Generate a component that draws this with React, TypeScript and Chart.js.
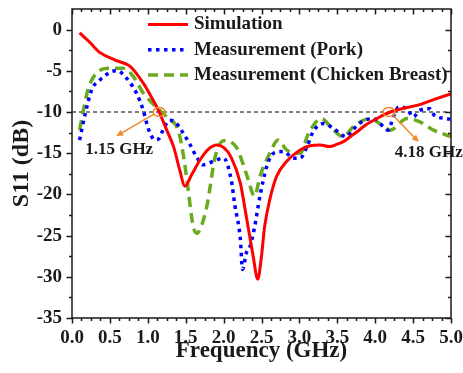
import React, { useEffect, useRef } from 'react';
import { Chart, registerables } from 'chart.js';

Chart.register(...registerables);

// ---------- data ----------
const simFreq = [0.1, 0.24, 0.37, 0.57, 0.77, 0.94, 1.03, 1.12, 1.16, 1.25, 1.34, 1.42, 1.49, 1.58, 1.69, 1.8, 1.91, 2.0, 2.1, 2.22, 2.3, 2.39, 2.45, 2.5, 2.54, 2.61, 2.7, 2.83, 3.01, 3.14, 3.27, 3.4, 3.5, 3.58, 3.67, 3.76, 3.87, 3.98, 4.1, 4.2, 4.35, 4.55, 4.77, 5.0];
const simS11 = [-0.4, -1.6, -2.8, -3.7, -4.5, -6.5, -7.9, -9.4, -10.2, -12.2, -14.2, -17.0, -19.0, -17.6, -15.8, -14.5, -14.0, -14.3, -15.5, -18.6, -22.7, -27.5, -30.3, -27.5, -24.0, -20.6, -17.8, -16.0, -14.6, -14.1, -14.0, -14.2, -13.9, -13.6, -13.0, -12.4, -11.6, -11.0, -10.4, -10.0, -9.6, -9.2, -8.5, -7.8];

const porkFreq = [0.1, 0.17, 0.26, 0.37, 0.52, 0.6, 0.68, 0.85, 0.94, 0.99, 1.04, 1.1, 1.15, 1.2, 1.29, 1.36, 1.47, 1.56, 1.64, 1.73, 1.86, 2.0, 2.1, 2.15, 2.22, 2.25, 2.3, 2.35, 2.41, 2.48, 2.57, 2.66, 2.79, 2.92, 3.01, 3.1, 3.18, 3.32, 3.45, 3.62, 3.71, 3.84, 3.98, 4.11, 4.17, 4.24, 4.31, 4.42, 4.5, 4.59, 4.72, 4.78, 4.94, 5.0];
const porkS11 = [-13.4, -10.4, -7.3, -6.1, -5.1, -5.0, -5.5, -7.7, -9.8, -11.5, -12.8, -13.4, -13.2, -12.2, -11.0, -11.2, -12.6, -14.0, -15.4, -16.4, -16.0, -15.6, -18.2, -21.4, -25.3, -29.1, -27.1, -26.3, -23.9, -20.2, -16.6, -15.0, -14.8, -15.6, -15.6, -14.2, -12.4, -11.4, -12.0, -13.0, -12.1, -11.1, -10.8, -11.8, -12.2, -10.6, -9.4, -9.6, -10.6, -9.8, -9.6, -10.4, -10.8, -10.9];

const chickenFreq = [0.1, 0.15, 0.21, 0.32, 0.5, 0.68, 0.81, 0.94, 1.1, 1.25, 1.4, 1.45, 1.51, 1.6, 1.65, 1.7, 1.78, 1.89, 2.0, 2.17, 2.3, 2.41, 2.48, 2.61, 2.72, 2.83, 3.01, 3.12, 3.29, 3.43, 3.58, 3.71, 3.93, 4.09, 4.2, 4.42, 4.59, 4.77, 4.94, 5.0];
const chickenS11 = [-12.2, -9.8, -7.3, -5.3, -4.7, -4.7, -5.7, -7.7, -9.3, -10.6, -12.2, -14.2, -17.8, -23.9, -24.7, -24.0, -21.4, -15.4, -13.5, -14.3, -17.5, -20.2, -17.8, -15.0, -13.4, -14.6, -15.0, -12.6, -10.8, -12.0, -13.0, -11.8, -10.8, -11.6, -12.2, -10.8, -11.2, -12.2, -12.8, -13.0];

const seriesNames = ['Simulation', 'Measurement (Pork)', 'Measurement (Chicken Breast)'];
const thresholdDb = -10;
const markerFreqs = [1.15, 4.18];
const markerLabels = ['1.15 GHz', '4.18 GHz'];
const xTitle = 'Frequency (GHz)';
const yTitle = 'S11 (dB)';

// ---------- styles ----------
const FONT = "'Liberation Serif', 'Times New Roman', serif";
const RED = '#ff0000';
const BLUE = '#0000ff';
const GREEN = '#6aaa1e';
const ORANGE = '#f0892c';
const AXIS = '#1a1a1a';

const X_MIN = 0, X_MAX = 5, Y_MIN = -35, Y_MAX = 2.5;

const framePlugin = {
  id: 'frame',
  afterDraw(chart: any) {
    const { ctx, chartArea } = chart;
    const { left, right, top, bottom } = chartArea;
    const xs = chart.scales.x, ys = chart.scales.y;
    ctx.save();
    ctx.strokeStyle = AXIS;
    ctx.lineWidth = 1.5;
    ctx.setLineDash([]);
    ctx.beginPath();
    ctx.rect(left, top, right - left, bottom - top);
    // x ticks: major every 0.5, minor every 0.125
    for (let i = 0; i <= 40; i++) {
      const v = X_MIN + i * 0.125;
      const major = i % 4 === 0;
      const len = major ? 5.5 : 3;
      const px = Math.round(xs.getPixelForValue(v)) + 0.5;
      ctx.moveTo(px, bottom); ctx.lineTo(px, bottom + len);
      ctx.moveTo(px, top); ctx.lineTo(px, top + len);
    }
    // y ticks: major every 5, minor every 2.5
    for (let i = 0; i <= 14; i++) {
      const v = Y_MIN + i * 2.5;
      const major = i % 2 === 0;
      const len = major ? 5.5 : 3;
      const py = Math.round(ys.getPixelForValue(v)) + 0.5;
      ctx.moveTo(left, py); ctx.lineTo(left - len, py);
      ctx.moveTo(right, py); ctx.lineTo(right - len, py);
    }
    ctx.stroke();
    ctx.restore();
  },
};

// pixel offsets for the annotation arrows and labels (relative to the marker)
const annotationLayout = [
  { tipDx: -43, tipDy: 24, textDx: -74, textDy: 42 },
  { tipDx: 30, tipDy: 30, textDx: 6, textDy: 45 },
];

const annotationPlugin = {
  id: 'annotations',
  afterDatasetsDraw(chart: any) {
    const { ctx } = chart;
    const xs = chart.scales.x, ys = chart.scales.y;
    ctx.save();
    markerFreqs.forEach((f, i) => {
      const cx = xs.getPixelForValue(f);
      const cy = ys.getPixelForValue(thresholdDb);
      const lay = annotationLayout[i];
      const rx = 6, ry = 4.5;
      ctx.strokeStyle = ORANGE;
      ctx.fillStyle = ORANGE;
      ctx.lineWidth = 1.5;
      ctx.setLineDash([]);
      ctx.beginPath();
      ctx.ellipse(cx, cy, rx, ry, 0, 0, Math.PI * 2);
      ctx.stroke();
      const tx = cx + lay.tipDx, ty = cy + lay.tipDy;
      const ang = Math.atan2(ty - cy, tx - cx);
      const sx = cx + Math.cos(ang) * rx, sy = cy + Math.sin(ang) * ry;
      const headLen = 7, headW = 3.2;
      const bx = tx - Math.cos(ang) * headLen, by = ty - Math.sin(ang) * headLen;
      ctx.beginPath();
      ctx.moveTo(sx, sy);
      ctx.lineTo(bx, by);
      ctx.stroke();
      ctx.beginPath();
      ctx.moveTo(tx, ty);
      ctx.lineTo(bx + Math.sin(ang) * headW, by - Math.cos(ang) * headW);
      ctx.lineTo(bx - Math.sin(ang) * headW, by + Math.cos(ang) * headW);
      ctx.closePath();
      ctx.fill();
      ctx.fillStyle = AXIS;
      ctx.font = `bold 17px ${FONT}`;
      ctx.textAlign = 'left';
      ctx.textBaseline = 'alphabetic';
      ctx.fillText(markerLabels[i], cx + lay.textDx, cy + lay.textDy);
    });
    ctx.restore();
  },
};

const legendPlugin = {
  id: 'customLegend',
  afterDraw(chart: any) {
    const { ctx, chartArea } = chart;
    const x0 = chartArea.left + 76;
    const x1 = chartArea.left + 116;
    const tx = chartArea.left + 122;
    const y0 = chartArea.top + 15.5;
    const gap = 25.3;
    ctx.save();
    seriesNames.forEach((name, i) => {
      const ds = chart.data.datasets[i];
      const y = y0 + i * gap;
      ctx.strokeStyle = ds.borderColor;
      ctx.lineWidth = ds.borderWidth;
      ctx.setLineDash(ds.borderDash || []);
      ctx.beginPath();
      ctx.moveTo(x0, y);
      ctx.lineTo(x1, y);
      ctx.stroke();
      ctx.setLineDash([]);
      ctx.fillStyle = AXIS;
      ctx.font = `bold 19px ${FONT}`;
      ctx.textAlign = 'left';
      ctx.textBaseline = 'middle';
      ctx.fillText(name, tx, y);
    });
    ctx.restore();
  },
};

const toPoints = (xs: number[], ys: number[]) => xs.map((x, i) => ({ x, y: ys[i] }));

export default function App() {
  const ref = useRef<HTMLCanvasElement>(null);

  useEffect(() => {
    document.body.style.margin = '0';
    const canvas = ref.current;
    if (!canvas) return;
    const tickFont = { family: FONT, weight: 'bold' as const, size: 19 };
    const chart = new Chart(canvas, {
      type: 'line',
      data: {
        datasets: [
          {
            label: seriesNames[0],
            data: toPoints(simFreq, simS11),
            borderColor: RED,
            borderWidth: 3,
            pointRadius: 0,
            fill: false,
            cubicInterpolationMode: 'monotone',
          },
          {
            label: seriesNames[1],
            data: toPoints(porkFreq, porkS11),
            borderColor: BLUE,
            borderWidth: 3.5,
            borderDash: [3.5, 4.5],
            pointRadius: 0,
            fill: false,
            cubicInterpolationMode: 'monotone',
          },
          {
            label: seriesNames[2],
            data: toPoints(chickenFreq, chickenS11),
            borderColor: GREEN,
            borderWidth: 3.5,
            borderDash: [10, 6],
            pointRadius: 0,
            fill: false,
            cubicInterpolationMode: 'monotone',
          },
          {
            label: 'threshold',
            data: [{ x: X_MIN, y: thresholdDb }, { x: X_MAX, y: thresholdDb }],
            borderColor: '#000000',
            borderWidth: 1,
            borderDash: [4, 3],
            pointRadius: 0,
            fill: false,
          },
        ],
      },
      options: {
        animation: false,
        responsive: false,
        devicePixelRatio: 1,
        layout: { padding: { top: 9, right: 12, left: 0, bottom: 0 } },
        plugins: {
          legend: { display: false },
          tooltip: { enabled: false },
        },
        scales: {
          x: {
            type: 'linear',
            min: X_MIN,
            max: X_MAX,
            grid: { display: false, drawTicks: false, tickLength: 0 },
            border: { display: false },
            ticks: {
              stepSize: 0.5,
              padding: 8.5,
              color: AXIS,
              font: tickFont,
              maxRotation: 0,
              autoSkip: false,
              includeBounds: false,
              callback: (v: any) => Number(v).toFixed(1),
            },
            title: {
              display: true,
              text: xTitle,
              color: AXIS,
              font: { family: FONT, weight: 'bold', size: 23 },
              padding: { top: 0, bottom: 8 },
            },
            afterFit: (s: any) => {
              s.height = 55;
              s.paddingLeft = 0;
              s.paddingRight = 0;
            },
          },
          y: {
            type: 'linear',
            min: Y_MIN,
            max: Y_MAX,
            grid: { display: false, drawTicks: false, tickLength: 0 },
            border: { display: false },
            ticks: {
              stepSize: 5,
              padding: 10,
              color: AXIS,
              font: tickFont,
              autoSkip: false,
              includeBounds: false,
              callback: (v: any) => String(v),
            },
            title: {
              display: true,
              text: yTitle,
              color: AXIS,
              font: { family: FONT, weight: 'bold', size: 24 },
              padding: { top: 7.5, bottom: 0 },
            },
            afterFit: (s: any) => {
              s.width = 72;
              s.paddingTop = 0;
              s.paddingBottom = 0;
            },
          },
        },
      },
      plugins: [annotationPlugin, framePlugin, legendPlugin],
    } as any);
    return () => chart.destroy();
  }, []);

  return (
    <div style={{ width: 463, height: 373, position: 'relative', background: '#ffffff' }}>
      <canvas ref={ref} width={463} height={373} style={{ display: 'block' }} />
    </div>
  );
}
